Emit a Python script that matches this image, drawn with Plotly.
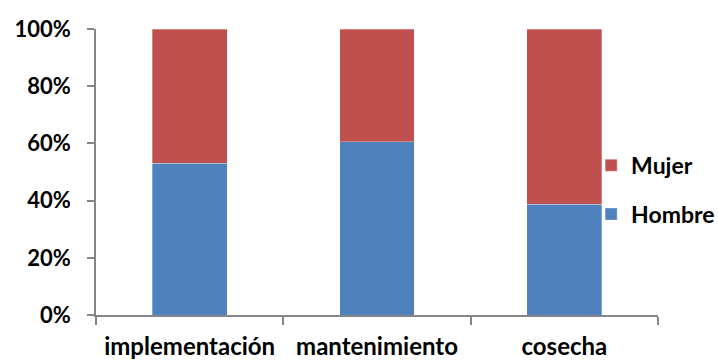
import plotly.graph_objects as go

# Share of participation by activity, split by sex (percent of each stage)
categories = ["implementación", "mantenimiento", "cosecha"]
hombre = [53.1, 60.5, 38.7]
mujer = [100 - v for v in hombre]
y_ticks = [0, 20, 40, 60, 80, 100]
y_labels = [f"{v}%" for v in y_ticks]

BLUE = "#4F81BD"
RED = "#C0504D"
AXIS = "#868686"
FONT = "Lato"


def bold(size):
    return dict(family=FONT, size=size, color="black", weight="bold")


fig = go.Figure()
fig.add_trace(go.Bar(
    x=categories, y=hombre, name="Hombre", marker_color=BLUE,
    marker_line=dict(color="rgba(255,255,255,0.5)", width=0.6),
    legendgroup="h", legendrank=2,
))
fig.add_trace(go.Bar(
    x=categories, y=mujer, name="Mujer", marker_color=RED,
    marker_line=dict(color="rgba(255,255,255,0.5)", width=0.6),
    legendgroup="m", legendrank=1,
))

fig.update_layout(
    width=718, height=361,
    barmode="stack", bargap=0.6,
    margin=dict(l=95.5, r=60, t=29, b=45.5, autoexpand=False),
    paper_bgcolor="white", plot_bgcolor="white",
    font=bold(22),
    legend=dict(
        x=0.881, y=0.438, xanchor="left", yanchor="middle",
        traceorder="grouped", tracegroupgap=16,
        font=bold(23), bgcolor="rgba(0,0,0,0)", itemwidth=30,
    ),
)
fig.update_yaxes(
    range=[0, 100], tickvals=y_ticks, ticktext=y_labels,
    showgrid=False, zeroline=False,
    showline=True, linecolor=AXIS, linewidth=1.5,
    ticks="outside", ticklen=7, tickcolor=AXIS, tickwidth=1.5,
    ticklabelstandoff=12, tickfont=bold(22),
)
fig.update_xaxes(
    showgrid=False, showline=True, linecolor=AXIS, linewidth=1.5,
    ticks="outside", tickson="boundaries", ticklen=8, tickcolor=AXIS, tickwidth=1.5,
    ticklabelstandoff=9, tickfont=bold(24),
)

fig.write_html("out.html")
